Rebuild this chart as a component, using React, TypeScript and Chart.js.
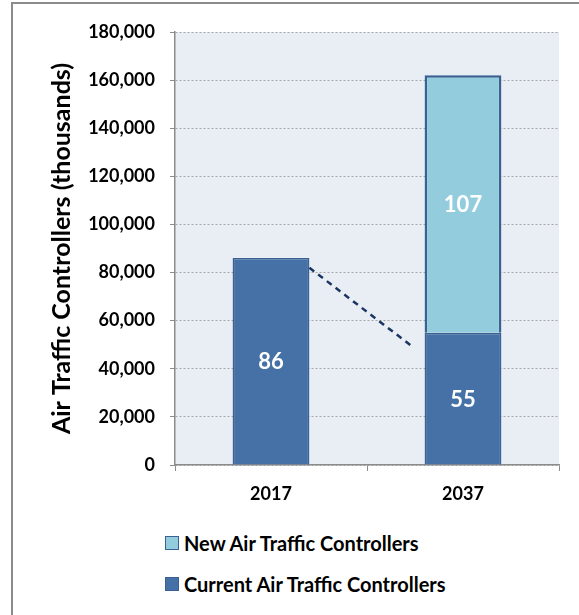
import React, { useEffect, useRef } from "react";
import { Chart, registerables } from "chart.js";

Chart.register(...registerables);

const categories = ["2017", "2037"];
const currentControllers = [86000, 55000];
const newControllers = [0, 107000];
const trendX = [0.2, 0.74];
const trendY = [82000, 49000];
const yMax = 180000;
const yStep = 20000;
const yTitle = "Air Traffic Controllers (thousands)";
const legendNew = "New Air Traffic Controllers";
const legendCurrent = "Current Air Traffic Controllers";

const FONT = "Lato, 'Open Sans', sans-serif";
const CURRENT_FILL = "#4571A6";
const NEW_FILL = "#93CDDD";
const BAR_BORDER = "#3A6192";
const PAD_LEFT = 43;

const bgPlugin = {
  id: "plotBg",
  beforeDraw(chart: any) {
    const { ctx, chartArea } = chart;
    if (!chartArea) return;
    ctx.save();
    ctx.fillStyle = "#E9EDF4";
    ctx.fillRect(chartArea.left, chartArea.top, chartArea.right - chartArea.left, chartArea.bottom - chartArea.top);
    ctx.restore();
  },
};

const trendPlugin = {
  id: "trendLine",
  afterDatasetsDraw(chart: any) {
    const { ctx, scales } = chart;
    const xs = scales.x;
    const ys = scales.y;
    ctx.save();
    ctx.strokeStyle = "#1B3562";
    ctx.lineWidth = 2.5;
    ctx.setLineDash([6, 5]);
    ctx.beginPath();
    trendX.forEach((x, i) => {
      const px = xs.getPixelForValue(x);
      const py = ys.getPixelForValue(trendY[i]);
      if (i === 0) ctx.moveTo(px, py);
      else ctx.lineTo(px, py);
    });
    ctx.stroke();
    ctx.restore();
  },
};

const labelPlugin = {
  id: "barLabels",
  afterDatasetsDraw(chart: any) {
    const { ctx } = chart;
    ctx.save();
    ctx.fillStyle = "#FFFFFF";
    ctx.font = `bold 22px ${FONT}`;
    ctx.textAlign = "center";
    ctx.textBaseline = "middle";
    chart.data.datasets.forEach((ds: any, di: number) => {
      const meta = chart.getDatasetMeta(di);
      meta.data.forEach((el: any, i: number) => {
        const v = ds.data[i];
        if (!v) return;
        const p = el.getProps(["x", "y", "base"], true);
        ctx.fillText(String(Math.round(v / 1000)), p.x, (p.y + p.base) / 2 + 1);
      });
    });
    ctx.restore();
  },
};

export default function App() {
  const ref = useRef<HTMLCanvasElement | null>(null);

  useEffect(() => {
    if (!ref.current) return;
    const chart = new Chart(ref.current, {
      type: "bar",
      data: {
        labels: categories,
        datasets: [
          {
            label: legendCurrent,
            data: currentControllers,
            backgroundColor: CURRENT_FILL,
            borderColor: BAR_BORDER,
            borderWidth: 1.5,
            barPercentage: 0.4,
            categoryPercentage: 1.0,
          },
          {
            label: legendNew,
            data: newControllers,
            backgroundColor: NEW_FILL,
            borderColor: BAR_BORDER,
            borderWidth: 2.5,
            barPercentage: 0.4,
            categoryPercentage: 1.0,
          },
        ],
      },
      options: {
        animation: false,
        responsive: false,
        devicePixelRatio: 1,
        layout: { padding: { left: PAD_LEFT, top: 32, right: 20, bottom: 0 } },
        plugins: { legend: { display: false }, tooltip: { enabled: false } },
        scales: {
          x: {
            stacked: true,
            offset: true,
            grid: { drawOnChartArea: false, tickLength: 6, color: "#8C8C8C", offset: true },
            border: { color: "#8C8C8C", width: 1.5 },
            ticks: { color: "#000", font: { family: FONT, size: 18, weight: "bold" }, padding: 12 },
            afterFit: (s: any) => { s.height = 45; },
          },
          y: {
            stacked: true,
            min: 0,
            max: yMax,
            ticks: {
              stepSize: yStep,
              color: "#000",
              font: { family: FONT, size: 18, weight: "bold" },
              padding: 15,
              callback: (v: any) => Number(v).toLocaleString("en-US"),
            },
            grid: { color: "#A6A6A6", tickLength: 5, tickColor: "#8C8C8C", tickBorderDash: [], lineWidth: 1 },
            border: { color: "#8C8C8C", width: 1.5, dash: [2, 2] },
            title: {
              display: true,
              text: yTitle,
              color: "#000",
              font: { family: FONT, size: 25, weight: "bold" },
              padding: { top: 4, bottom: 4 },
            },
            afterFit: (s: any) => { s.width = 175 - PAD_LEFT; },
          },
        },
      } as any,
      plugins: [bgPlugin, trendPlugin, labelPlugin],
    });
    return () => chart.destroy();
  }, []);

  const legendRow = (top: number, fill: string, text: string) => (
    <div style={{ position: "absolute", left: 165, top, height: 22, display: "flex", alignItems: "center" }}>
      <div style={{ width: 12, height: 12, background: fill, border: `1px solid ${BAR_BORDER}` }} />
      <span style={{ marginLeft: 5, fontFamily: FONT, fontWeight: "bold", fontSize: 20, color: "#000", lineHeight: "22px", whiteSpace: "nowrap" }}>{text}</span>
    </div>
  );

  return (
    <div style={{ position: "fixed", left: 0, top: 0, width: 579, height: 615, background: "#fff", overflow: "hidden" }}>
      <div style={{ position: "absolute", left: 11, top: 2, width: 600, height: 700, borderLeft: "2px solid #8C8C8C", borderTop: "2px solid #8C8C8C" }} />
      <canvas ref={ref} width={579} height={510} style={{ position: "absolute", left: 0, top: 0 }} />
      {legendRow(532, NEW_FILL, legendNew)}
      {legendRow(573, CURRENT_FILL, legendCurrent)}
    </div>
  );
}
